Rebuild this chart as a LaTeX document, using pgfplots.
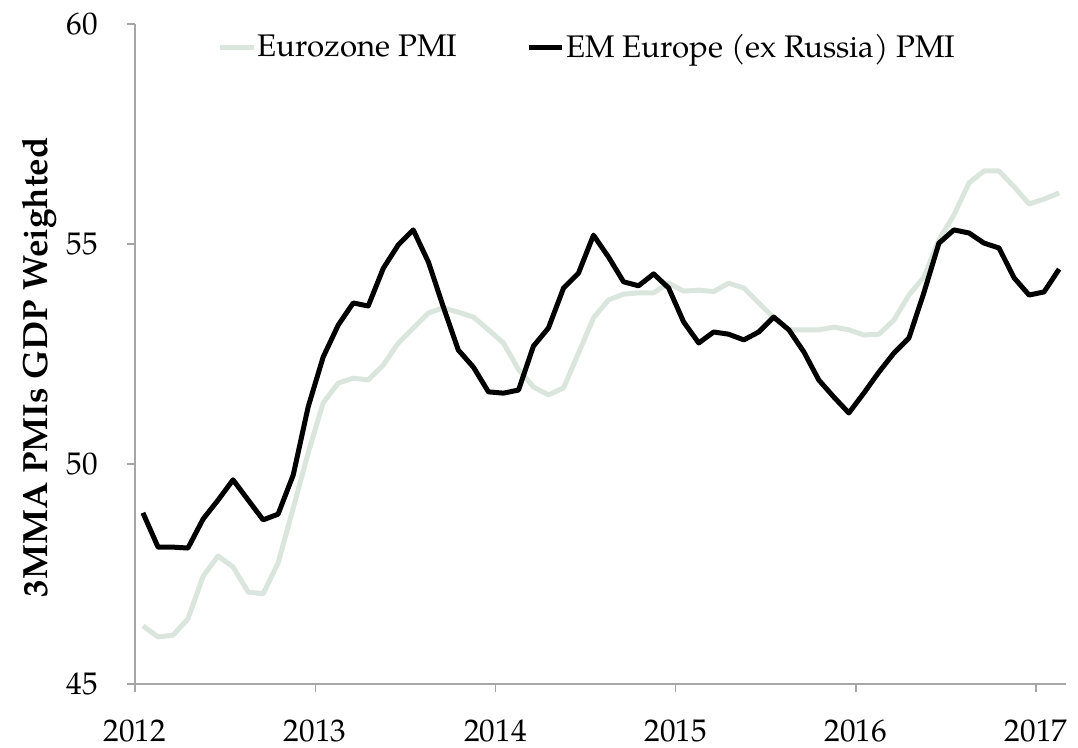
\documentclass[border=0pt]{standalone}
\usepackage{fontspec}
\setmainfont{TeX Gyre Pagella}
\usepackage{pgfplots}
\pgfplotsset{compat=1.18}
\definecolor{ezgreen}{RGB}{218,229,221}
\definecolor{axgray}{RGB}{166,166,166}
\begin{document}
\begin{tikzpicture}
\begin{axis}[
  scale only axis,
  width=372.4pt, height=264pt,
  xmin=2012, xmax=2017.166,
  ymin=45, ymax=60,
  axis x line*=bottom, axis y line*=left,
  axis line style={axgray, line width=0.5pt, -},
  tick style={axgray, line width=0.5pt},
  tick align=outside,
  major tick length=3.4pt,
  xtick={2012,2013,2014,2015,2016,2017},
  ytick={45,50,55,60},
  minor tick num=0,
  /pgf/number format/assume math mode=true,
  xticklabel style={/pgf/number format/1000 sep={}, yshift=-7.2pt},
  yticklabel style={xshift=-8pt},
  font=\fontsize{12.5}{15}\selectfont,
  ylabel={\fontsize{14}{16}\selectfont\bfseries 3MMA PMIs GDP Weighted},
  ylabel style={at={(axis description cs:-0.102,0.48)}, anchor=center},
  legend columns=2,
  legend style={draw=none, fill=none, at={(axis description cs:0.080,0.964)}, anchor=west,
    /tikz/every even column/.append style={column sep=27pt},
    nodes={inner sep=0.5pt}},
  legend image code/.code={\draw[#1] (0pt,0pt) -- (13.5pt,0pt);},
]
\addplot[ezgreen, line width=2pt, line join=round] coordinates {
(2012.044,46.32) (2012.128,46.07) (2012.211,46.11) (2012.294,46.48) (2012.378,47.45) (2012.461,47.91)
(2012.544,47.66) (2012.628,47.09) (2012.711,47.05) (2012.794,47.75) (2012.878,49.00) (2012.961,50.25)
(2013.044,51.39) (2013.128,51.84) (2013.211,51.95) (2013.294,51.91) (2013.378,52.25) (2013.461,52.75)
(2013.544,53.09) (2013.628,53.43) (2013.711,53.55) (2013.794,53.45) (2013.878,53.34) (2013.961,53.05)
(2014.044,52.75) (2014.128,52.15) (2014.211,51.75) (2014.294,51.57) (2014.378,51.73) (2014.461,52.52)
(2014.544,53.32) (2014.628,53.73) (2014.711,53.86) (2014.794,53.89) (2014.878,53.89) (2014.961,54.11)
(2015.044,53.93) (2015.128,53.95) (2015.211,53.92) (2015.294,54.11) (2015.378,54.00) (2015.461,53.66)
(2015.544,53.32) (2015.628,53.05) (2015.711,53.05) (2015.794,53.05) (2015.878,53.11) (2015.961,53.05)
(2016.044,52.93) (2016.128,52.95) (2016.211,53.27) (2016.294,53.84) (2016.378,54.25) (2016.461,55.10)
(2016.544,55.66) (2016.628,56.39) (2016.711,56.66) (2016.794,56.66) (2016.878,56.30) (2016.961,55.91)
(2017.044,56.02) (2017.128,56.16)
};
\addlegendentry{Eurozone PMI}
\addplot[black, line width=2pt, line join=round] coordinates {
(2012.044,48.89) (2012.128,48.11) (2012.211,48.11) (2012.294,48.09) (2012.378,48.75) (2012.461,49.18)
(2012.544,49.64) (2012.628,49.18) (2012.711,48.73) (2012.794,48.86) (2012.878,49.75) (2012.961,51.30)
(2013.044,52.43) (2013.128,53.16) (2013.211,53.66) (2013.294,53.59) (2013.378,54.45) (2013.461,54.98)
(2013.544,55.32) (2013.628,54.59) (2013.711,53.57) (2013.794,52.59) (2013.878,52.20) (2013.961,51.64)
(2014.044,51.61) (2014.128,51.68) (2014.211,52.68) (2014.294,53.09) (2014.378,54.00) (2014.461,54.34)
(2014.544,55.20) (2014.628,54.70) (2014.711,54.14) (2014.794,54.05) (2014.878,54.32) (2014.961,54.00)
(2015.044,53.23) (2015.128,52.75) (2015.211,53.00) (2015.294,52.95) (2015.378,52.82) (2015.461,53.00)
(2015.544,53.34) (2015.628,53.05) (2015.711,52.55) (2015.794,51.91) (2015.878,51.52) (2015.961,51.16)
(2016.044,51.61) (2016.128,52.09) (2016.211,52.52) (2016.294,52.86) (2016.378,53.90) (2016.461,55.02)
(2016.544,55.32) (2016.628,55.25) (2016.711,55.02) (2016.794,54.91) (2016.878,54.23) (2016.961,53.84)
(2017.044,53.91) (2017.128,54.43)
};
\addlegendentry{EM Europe (ex Russia) PMI}
\end{axis}
\pgfresetboundingbox
\useasboundingbox ([shift={(-54pt,-25.6pt)}]current axis.south west) rectangle ([shift={(4.8pt,9.6pt)}]current axis.north east);
\end{tikzpicture}
\end{document}
